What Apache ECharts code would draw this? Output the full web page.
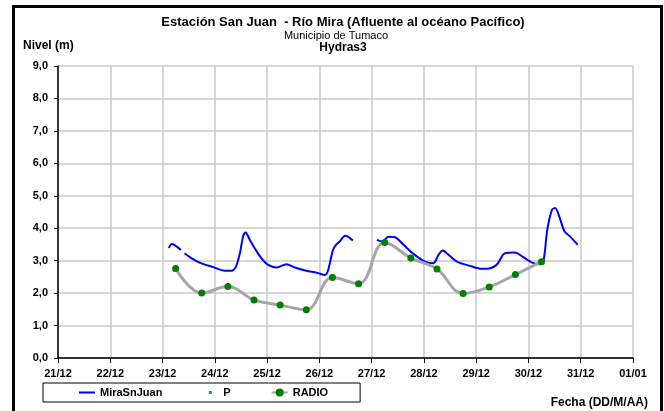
<!DOCTYPE html>
<html>
<head>
<meta charset="utf-8">
<script src="https://cdn.jsdelivr.net/npm/echarts@6/dist/echarts.min.js"></script>
<style>
  html, body { margin: 0; padding: 0; background: #fff; }
  #chart { width: 664px; height: 411px; }
</style>
</head>
<body>
<div id="chart"></div>
<script>
// Tick labels of the date axis (one per day, starting 21/12)
const dayLabels = ['21/12', '22/12', '23/12', '24/12', '25/12', '26/12', '27/12', '28/12', '29/12', '30/12', '31/12', '01/01'];

// MiraSnJuan gauge: time in days after 21/12 00:00, level in metres (null = no data)
const miraDays = [2.12, 2.18, 2.26, 2.35, 2.38, 2.42, 2.55, 2.71, 2.97, 3.19, 3.32, 3.40, 3.48, 3.54, 3.59, 3.67, 3.76, 3.89, 4.02, 4.18, 4.37, 4.53, 4.75, 4.95, 5.11, 5.17, 5.26, 5.33, 5.39, 5.49, 5.55, 5.64, 5.90, 6.10, 6.21, 6.32, 6.45, 6.61, 6.80, 7.02, 7.18, 7.28, 7.36, 7.47, 7.63, 7.88, 8.11, 8.20, 8.39, 8.55, 8.74, 8.90, 9.07, 9.22, 9.29, 9.36, 9.45, 9.51, 9.59, 9.69, 9.80, 9.94];
const miraLevel = [3.39, 3.51, 3.45, 3.33, null, 3.23, 3.08, 2.94, 2.80, 2.69, 2.69, 2.80, 3.23, 3.74, 3.87, 3.64, 3.39, 3.08, 2.87, 2.79, 2.89, 2.79, 2.69, 2.63, 2.56, 2.72, 3.33, 3.51, 3.59, 3.77, 3.74, 3.62, null, 3.64, 3.59, 3.74, 3.72, 3.49, 3.21, 2.97, 2.92, 3.18, 3.31, 3.18, 2.97, 2.84, 2.75, 2.75, 2.87, 3.23, 3.25, 3.11, 2.94, 2.89, 3.02, 3.95, 4.57, 4.62, 4.36, 3.90, 3.74, 3.49];

// Radio reports (06:00 and 18:00), days after 21/12 00:00 and level in metres
const radioDays = [2.25, 2.75, 3.25, 3.75, 4.25, 4.75, 5.25, 5.75, 6.25, 6.75, 7.25, 7.75, 8.25, 8.75, 9.25];
const radioLevel = [2.76, 2.00, 2.20, 1.79, 1.63, 1.49, 2.48, 2.29, 3.56, 3.08, 2.74, 1.99, 2.19, 2.57, 2.97];

const FONT = "'Liberation Sans', Arial, sans-serif";

const pairs = (xs, ys) => xs.map((x, i) => [x, ys[i] === null ? '-' : ys[i]]);

// Helper for the free-standing text blocks (headings and axis names)
const label = (text, x, y, size, weight, align) => ({
  type: 'text',
  silent: true,
  x: x, y: y,
  style: {
    text: text,
    fill: '#000',
    font: weight + ' ' + size + 'px ' + FONT,
    textAlign: align,
    textVerticalAlign: 'middle'
  }
});

const chart = echarts.init(document.getElementById('chart'), null, { renderer: 'canvas' });

chart.setOption({
  animation: false,
  backgroundColor: '#ffffff',
  textStyle: { fontFamily: FONT },
  graphic: [
    {
      type: 'rect',
      silent: true,
      shape: { x: 13.5, y: 6.5, width: 648, height: 420 },
      style: { fill: 'none', stroke: '#000', lineWidth: 3 }
    },
    label('Estación San Juan  - Río Mira (Afluente al océano Pacífico)', 343, 22.5, 13, 'bold', 'center'),
    label('Municipio de Tumaco', 336, 35.5, 11, 'normal', 'center'),
    label('Hydras3', 343, 47.5, 12, 'bold', 'center'),
    label('Nivel (m)', 23, 45.5, 12, 'bold', 'left'),
    label('Fecha (DD/M/AA)', 648, 403, 12, 'bold', 'right')
  ],
  legend: {
    left: 43, top: 383,
    padding: [4, 32, 4, 36],
    itemGap: 40,
    itemWidth: 16, itemHeight: 10,
    borderColor: '#000', borderWidth: 1,
    textStyle: { fontFamily: FONT, fontSize: 11, fontWeight: 'bold', color: '#000' },
    data: [
      { name: 'MiraSnJuan', icon: 'path://M0,0M16,10M0,4h16v2h-16z' },
      { name: 'P', icon: 'path://M0,0M16,10M6.5,3.5h3v3h-3z' },
      { name: 'RADIO' }
    ]
  },
  grid: { left: 58, right: 31, top: 66, bottom: 53, containLabel: false },
  xAxis: {
    type: 'value',
    min: 0, max: 11, interval: 1,
    axisLine: { show: true, onZero: false, lineStyle: { color: '#000', width: 1.5 } },
    axisTick: { show: true, length: 5, lineStyle: { color: '#000' } },
    axisLabel: {
      margin: 10,
      fontFamily: FONT, fontSize: 11, fontWeight: 'bold', color: '#000',
      formatter: v => dayLabels[Math.round(v)]
    },
    splitLine: { show: true, lineStyle: { color: '#c8c8c8', width: 1.5 } }
  },
  yAxis: {
    type: 'value',
    min: 0, max: 9, interval: 1,
    axisLine: { show: true, lineStyle: { color: '#000', width: 1.5 } },
    axisTick: { show: true, length: 4, lineStyle: { color: '#000' } },
    axisLabel: {
      margin: 10,
      fontFamily: FONT, fontSize: 11, fontWeight: 'bold', color: '#000',
      formatter: v => v.toFixed(1).replace('.', ',')
    },
    splitLine: { show: true, lineStyle: { color: '#c8c8c8', width: 1.5 } }
  },
  series: [
    {
      name: 'MiraSnJuan',
      type: 'line',
      data: pairs(miraDays, miraLevel),
      smooth: 0.3,
      connectNulls: false,
      symbol: 'none',
      lineStyle: { color: '#0000ff', width: 2 },
      itemStyle: { color: '#0000ff' },
      z: 3
    },
    {
      name: 'P',
      type: 'scatter',
      data: pairs(radioDays, radioLevel),
      symbol: 'rect',
      symbolSize: 3,
      itemStyle: { color: '#008000' },
      z: 2
    },
    {
      name: 'RADIO',
      type: 'line',
      data: pairs(radioDays, radioLevel),
      smooth: 0.4,
      symbol: 'circle',
      symbolSize: 7,
      showSymbol: true,
      lineStyle: { color: '#a6a6a6', width: 3 },
      itemStyle: { color: '#008000', borderWidth: 0 },
      z: 4
    }
  ]
});
</script>
</body>
</html>
